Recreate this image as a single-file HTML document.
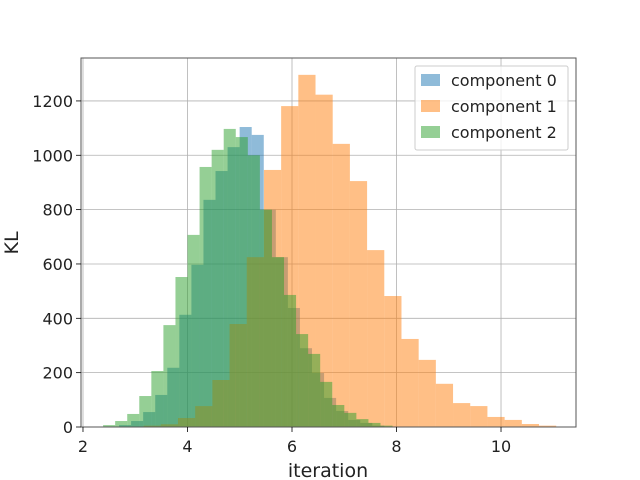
<!DOCTYPE html>
<html><head><meta charset="utf-8"><style>
body{margin:0;background:#fff}
svg{display:block;font-family:"DejaVu Sans","Liberation Sans",sans-serif}
</style></head><body>
<svg id="chart" width="640" height="480" viewBox="0 0 640 480" xmlns="http://www.w3.org/2000/svg">
<rect width="640" height="480" fill="#fff"/>
<g id="grid"></g><g id="bars"></g><g id="axes"></g>
</svg>
<script>
const seriesNames = ["component 0","component 1","component 2"];
const seriesColors = ["#1f77b4","#ff7f0e","#2ca02c"];
const binStart = [2.69, 3.16, 2.385];
const binWidth = [0.2308, 0.329, 0.2308];
const counts0 = [7,22,55,118,218,413,597,836,942,1030,1104,1075,800,625,438,290,199,107,59,26,15,5];
const counts1 = [5,10,33,77,173,379,625,946,1181,1296,1223,1042,905,651,482,324,247,159,88,77,37,26,11,5];
const counts2 = [7,22,48,114,206,375,552,707,957,1020,1097,1067,1000,800,625,486,342,269,166,81,52,29,15,5];
const xTicks = [2,4,6,8,10];
const yTicks = [0,200,400,600,800,1000,1200];

const L=81,R=576,T=58,B=427;
const xMin=1.962,xMax=11.435,yMax=1358;
const X=v=>L+(v-xMin)/(xMax-xMin)*(R-L);
const Y=v=>B-v/yMax*(B-T);
const NS="http://www.w3.org/2000/svg";
function mk(tag,attrs,parent){const e=document.createElementNS(NS,tag);for(const k in attrs)e.setAttribute(k,attrs[k]);parent.appendChild(e);return e;}
const grid=document.getElementById('grid'),bars=document.getElementById('bars'),axes=document.getElementById('axes');

xTicks.forEach(t=>{const l=mk('line',{x1:X(t),x2:X(t),y1:T,y2:B,stroke:'#b0b0b0','stroke-width':0.8},grid);

});
yTicks.forEach(t=>{const l=mk('line',{x1:L,x2:R,y1:Y(t),y2:Y(t),stroke:'#b0b0b0','stroke-width':0.8},grid);

});

[counts0,counts1,counts2].forEach((cs,si)=>{
  cs.forEach((c,i)=>{
    const x0=X(binStart[si]+i*binWidth[si]),x1=X(binStart[si]+(i+1)*binWidth[si]);
    const r=mk('rect',{x:x0,y:Y(c),width:x1-x0,height:B-Y(c),fill:seriesColors[si],'fill-opacity':0.5},bars);
    
    
  });
});

const frame=mk('rect',{x:L,y:T,width:R-L,height:B-T,fill:'none',stroke:'#555','stroke-width':1},axes);


xTicks.forEach(t=>{
  mk('line',{x1:X(t),x2:X(t),y1:B,y2:B+5,stroke:'#000','stroke-width':0.8},axes);
  const tx=mk('text',{x:X(t),y:B+25,'text-anchor':'middle','font-size':16,fill:'#222'},axes);
  tx.textContent=t;
  
  
});
yTicks.forEach(t=>{
  mk('line',{x1:L-5,x2:L,y1:Y(t),y2:Y(t),stroke:'#000','stroke-width':0.8},axes);
  const tx=mk('text',{x:L-8,y:Y(t)+6,'text-anchor':'end','font-size':16,fill:'#222'},axes);
  tx.textContent=t;
  
  
});
const xl=mk('text',{x:328,y:477,'text-anchor':'middle','font-size':19,fill:'#222'},axes);
xl.textContent='iteration';


const yl=mk('text',{x:0,y:0,'text-anchor':'middle','font-size':19,fill:'#222',transform:'translate(18,243) rotate(-90)'},axes);
yl.textContent='KL';



const lg=mk('g',{},axes);


mk('rect',{x:415,y:66,width:153,height:84,fill:'#fff','fill-opacity':0.8,stroke:'#ccc',rx:2},lg);
seriesNames.forEach((n,i)=>{
  const y=80+i*26;
  const p=mk('rect',{x:421,y:y-6,width:19,height:12,fill:seriesColors[i],'fill-opacity':0.5},lg);
  
  
  const t=mk('text',{x:451,y:y+6,'font-size':16,fill:'#222'},lg);
  t.textContent=n;
  
  
});
</script>
</body></html>
